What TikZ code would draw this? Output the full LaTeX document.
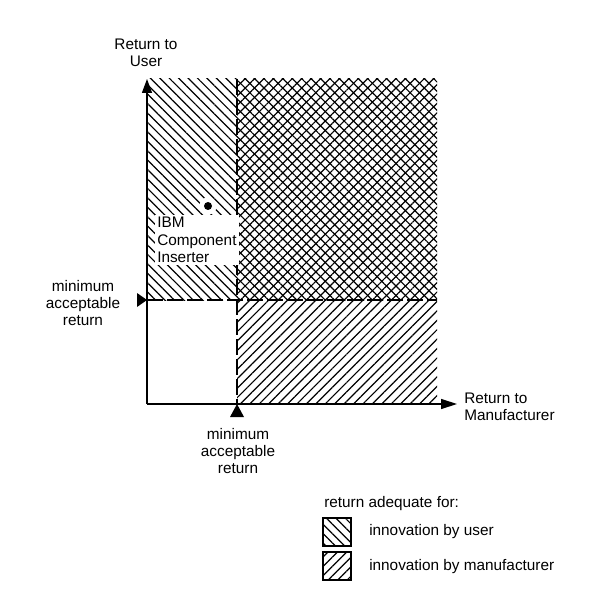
\documentclass[tikz,border=0pt]{standalone}
\usepackage{fontspec}
\setmainfont{Liberation Sans}
\usetikzlibrary{patterns.meta,arrows.meta}
\tikzset{
  userhatch/.style={pattern={Lines[angle=-45,distance=5pt,line width=0.9pt]}},
  manuhatch/.style={pattern={Lines[angle=45,distance=5pt,line width=0.9pt]}},
  axisline/.style={line width=1pt},
  dashline/.style={line width=0.9pt,dash pattern=on 12pt off 3pt},
  marker/.style={fill=black},
  lbl/.style={align=center,inner sep=0pt},
  lbll/.style={align=left,inner sep=0pt,anchor=west},
}
\begin{document}
\begin{tikzpicture}[x=0.75pt,y=-0.75pt,font=\fontsize{11.5}{13.1}\selectfont]
\useasboundingbox (0,0) rectangle (600,616);
% key points
\coordinate (O) at (147,404);
\coordinate (Ytop) at (147,79);
\coordinate (Xend) at (457,404);
\coordinate (ymin) at (147,300);
\coordinate (xmin) at (237,404);
\coordinate (xminTop) at (237,79);
\coordinate (ymaxR) at (437,300);
% hatched regions
\fill[userhatch] (Ytop) rectangle (ymaxR);
\fill[manuhatch] (xminTop) rectangle (437,404);
% dashed boundaries
\draw[dashline] (xminTop) -- (xmin);
\draw[dashline] (ymin) -- (ymaxR);
% axes
\draw[axisline,-{Triangle[length=10.5pt,width=7.5pt]}] (O) -- (Ytop);
\draw[axisline,-{Triangle[length=12pt,width=7.5pt]}] (O) -- (Xend);
% minimum markers
\fill[marker] (ymin) -- ++(-10,-7) -- ++(0,14) -- cycle;
\fill[marker] (xmin) -- ++(-7,13) -- ++(14,0) -- cycle;
% axis labels
\node[lbl] (ulabel) at (146,53) {Return to\\User};
\node[lbll] (mlabel) at (464,407) {Return to\\Manufacturer};
\node[lbl] (ymlabel) at (83,303) {minimum\\acceptable\\return};
\node[lbl] (xmlabel) at (238,451) {minimum\\acceptable\\return};
% IBM point
\node[circle,fill=white,minimum size=13pt,inner sep=0pt] (halo) at (208,206) {};
\fill (halo.center) circle (4);
\node[lbll,fill=white,inner sep=1.5pt] (ibm) at (155,240) {IBM\\Component\\Inserter};
% legend
\node[lbll] (legtitle) at (324,504) {return adequate for:};
\draw[userhatch,line width=0.8pt] (323,518) rectangle (351,546);
\node[lbll] (leguser) at (369,532) {innovation by user};
\draw[manuhatch,line width=0.8pt] (323,552) rectangle (351,580);
\node[lbll] (legmanu) at (369,567) {innovation by manufacturer};
\end{tikzpicture}
\end{document}
